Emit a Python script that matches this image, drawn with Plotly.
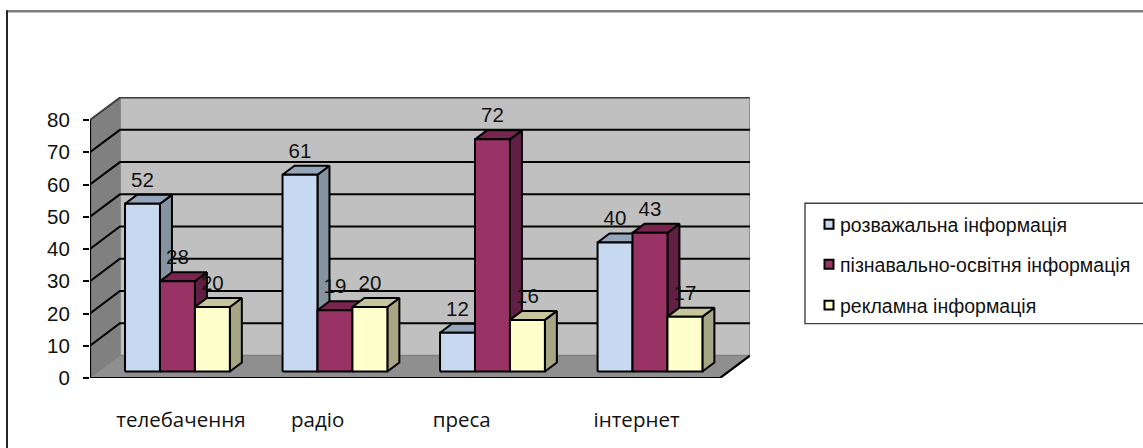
import plotly.graph_objects as go

categories = ["телебачення", "радіо", "преса", "інтернет"]
series_names = ["розважальна інформація", "пізнавально-освітня інформація", "рекламна інформація"]
entertainment = [52, 61, 12, 40]
educational = [28, 19, 72, 43]
advertising = [20, 20, 16, 17]
y_ticks = [0, 10, 20, 30, 40, 50, 60, 70, 80]
category_label_x = [0.577, 1.445, 2.36, 3.47]

series_values = [entertainment, educational, advertising]
front_colors = ["#C6D9F1", "#993366", "#FFFFCC"]
side_colors = ["#84939F", "#612043", "#A6A685"]
top_colors = ["#95A5BC", "#7A2550", "#C6C69C"]

WIDTH, HEIGHT = 1143, 448
PLOT_L, PLOT_R, PLOT_T, PLOT_B = 90, 750, 97, 378.5
UNIT_X = 157.75
UNIT_Y = 3.23
DEPTH_X = 30 / UNIT_X      # oblique shift of the full depth, in category units
DEPTH_Y = 22.5 / UNIT_Y    # oblique shift of the full depth, in value units
BAR_W = 35 / UNIT_X
BAR_FRONT, BAR_BACK = 0.29, 0.69
LABEL_LIFT = 6.9
TOP_VALUE = y_ticks[-1]
N = len(categories)


def project(x, v, d):
    """Oblique projection of (category position, value, depth) on to the axes."""
    return x + d * DEPTH_X, v + d * DEPTH_Y


def polygon(points):
    xs, ys = zip(*[project(*p) for p in points])
    return list(xs) + [xs[0]], list(ys) + [ys[0]]


fig = go.Figure()


def face(points, fill, line_color="black", line_width=2):
    xs, ys = polygon(points)
    fig.add_trace(go.Scatter(
        x=xs, y=ys, mode="lines", fill="toself", fillcolor=fill,
        line=dict(color=line_color, width=line_width),
        hoverinfo="skip", showlegend=False, cliponaxis=False,
    ))


def path(points, color="black", width=2):
    xs, ys = zip(*[project(*p) for p in points])
    fig.add_trace(go.Scatter(
        x=xs, y=ys, mode="lines", line=dict(color=color, width=width),
        hoverinfo="skip", showlegend=False, cliponaxis=False,
    ))


# Walls and floor
face([(0, 0, 1), (N, 0, 1), (N, TOP_VALUE, 1), (0, TOP_VALUE, 1)], "#C0C0C0", "#808080", 1.5)
face([(0, 0, 0), (0, 0, 1), (0, TOP_VALUE, 1), (0, TOP_VALUE, 0)], "#808080", "#808080", 1)
face([(0, 0, 0), (N, 0, 0), (N, 0, 1), (0, 0, 1)], "#8F8F8F", "#808080", 1)

# Gridlines run along the left wall and across the back wall
for v in y_ticks[1:-1]:
    path([(0, v, 0), (0, v, 1), (N, v, 1)], width=2)
path([(0, TOP_VALUE, 0), (0, TOP_VALUE, 1), (N, TOP_VALUE, 1)], color="#404040", width=2)

# Axis and front floor edges
path([(0, TOP_VALUE, 0), (0, 0, 0), (N, 0, 0), (N, 0, 1)], width=2.2)

# Bars, painted left to right so each one hides the side of its neighbour
base = 0
for c in range(N):
    start = c + (1 - BAR_W * len(series_values)) / 2
    for s, values in enumerate(series_values):
        x0 = start + s * BAR_W
        x1 = x0 + BAR_W
        top = base + values[c]
        face([(x1, base, BAR_FRONT), (x1, base, BAR_BACK), (x1, top, BAR_BACK), (x1, top, BAR_FRONT)], side_colors[s])
        face([(x0, top, BAR_FRONT), (x1, top, BAR_FRONT), (x1, top, BAR_BACK), (x0, top, BAR_BACK)], top_colors[s])
        face([(x0, base, BAR_FRONT), (x1, base, BAR_FRONT), (x1, top, BAR_FRONT), (x0, top, BAR_FRONT)], front_colors[s])

# Value labels sit above the front of each bar
label_x, label_y, label_text = [], [], []
for c in range(N):
    start = c + (1 - BAR_W * len(series_values)) / 2
    for s, values in enumerate(series_values):
        lx, ly = project(start + (s + 0.5) * BAR_W, values[c] + LABEL_LIFT, BAR_FRONT)
        label_x.append(lx)
        label_y.append(ly)
        label_text.append(str(values[c]))
fig.add_trace(go.Scatter(
    x=label_x, y=label_y, text=label_text, mode="text", textposition="middle center",
    textfont=dict(family="Liberation Sans", size=20.5, color="#111111"),
    hoverinfo="skip", showlegend=False, cliponaxis=False,
))


def px(x):
    return (x - PLOT_L) / (PLOT_R - PLOT_L)


def py(y):
    return (PLOT_B - y) / (PLOT_B - PLOT_T)


shapes = [
    # Outer chart frame, running off the page on the right and at the bottom
    dict(type="line", xref="paper", yref="paper", x0=px(7), x1=px(WIDTH + 5), y0=py(11), y1=py(11),
         line=dict(color="#808080", width=2.5)),
    dict(type="line", xref="paper", yref="paper", x0=px(7), x1=px(7), y0=py(10), y1=py(HEIGHT + 5),
         line=dict(color="#262626", width=2)),
    # Legend box
    dict(type="rect", xref="paper", yref="paper", x0=px(805), x1=px(WIDTH + 10), y0=py(203.5), y1=py(324),
         line=dict(color="#404040", width=1.4), fillcolor="white"),
]
annotations = []
legend_rows = [225, 265, 306]
for name, color, row in zip(series_names, front_colors, legend_rows):
    shapes.append(dict(type="rect", xref="paper", yref="paper", x0=px(824.5), x1=px(833.5),
                       y0=py(row - 5), y1=py(row + 4), fillcolor=color, line=dict(color="black", width=2)))
    annotations.append(dict(xref="paper", yref="paper", x=px(838), y=py(row), text=name, showarrow=False,
                            xanchor="left", yanchor="middle", align="left",
                            font=dict(family="Liberation Sans", size=19.5, color="#111111")))

fig.update_layout(
    width=WIDTH, height=HEIGHT,
    margin=dict(l=PLOT_L, r=WIDTH - PLOT_R, t=PLOT_T, b=HEIGHT - PLOT_B, pad=0),
    paper_bgcolor="white", plot_bgcolor="rgba(0,0,0,0)",
    showlegend=False, shapes=shapes, annotations=annotations,
    xaxis=dict(range=[0, N + DEPTH_X], tickvals=category_label_x, ticktext=categories,
               showgrid=False, zeroline=False, showline=False, ticks="", ticklabelstandoff=27,
               tickangle=0, tickfont=dict(family="Open Sans", size=20.5, color="#111111")),
    yaxis=dict(range=[0, (PLOT_B - PLOT_T) / UNIT_Y], tickvals=y_ticks,
               showgrid=False, zeroline=False, showline=False, ticks="outside", ticklen=6, tickwidth=1.6,
               tickcolor="black", ticklabelstandoff=9,
               tickfont=dict(family="Liberation Sans", size=20.5, color="#111111")),
)

fig.write_html("out.html", config=dict(displayModeBar=False))
